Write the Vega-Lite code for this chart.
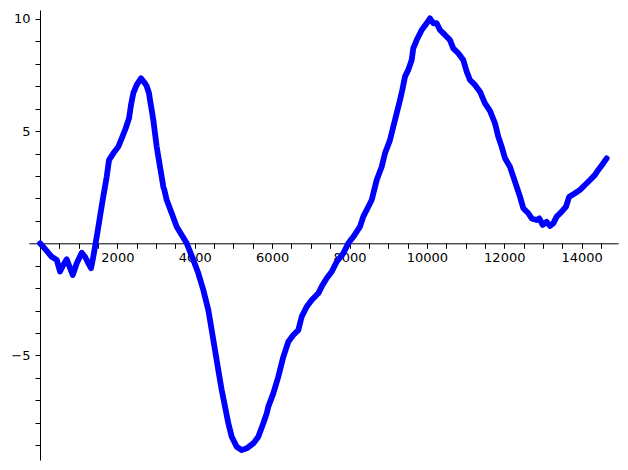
{
  "$schema": "https://vega.github.io/schema/vega-lite/v6.json",
  "width": 589,
  "height": 450,
  "autosize": {"type": "none"},
  "padding": {"left": 29, "top": 10, "right": 10, "bottom": 10},
  "background": "white",
  "config": {"view": {"stroke": null}},
  "data": {"values": [
    {"n": 0, "v": 0}, {"n": 129, "v": -0.25}, {"n": 302, "v": -0.6}, {"n": 432, "v": -0.74},
    {"n": 517, "v": -1.26}, {"n": 602, "v": -0.97}, {"n": 690, "v": -0.71}, {"n": 775, "v": -1.1},
    {"n": 845, "v": -1.41}, {"n": 949, "v": -0.89}, {"n": 1078, "v": -0.42}, {"n": 1163, "v": -0.6},
    {"n": 1248, "v": -0.89}, {"n": 1318, "v": -1.11}, {"n": 1362, "v": -0.74}, {"n": 1422, "v": -0.15},
    {"n": 1486, "v": 0.5}, {"n": 1551, "v": 1.2}, {"n": 1620, "v": 1.93}, {"n": 1724, "v": 2.97},
    {"n": 1783, "v": 3.71}, {"n": 1895, "v": 4.01}, {"n": 2024, "v": 4.31}, {"n": 2112, "v": 4.68},
    {"n": 2215, "v": 5.13}, {"n": 2300, "v": 5.57}, {"n": 2352, "v": 6.17}, {"n": 2411, "v": 6.69},
    {"n": 2499, "v": 7.06}, {"n": 2610, "v": 7.36}, {"n": 2714, "v": 7.13}, {"n": 2758, "v": 7.0},
    {"n": 2817, "v": 6.69}, {"n": 2843, "v": 6.39}, {"n": 2887, "v": 5.94}, {"n": 2928, "v": 5.5},
    {"n": 2972, "v": 4.9}, {"n": 3016, "v": 4.31}, {"n": 3058, "v": 3.86}, {"n": 3101, "v": 3.41},
    {"n": 3145, "v": 2.97}, {"n": 3187, "v": 2.52}, {"n": 3213, "v": 2.38}, {"n": 3275, "v": 1.93},
    {"n": 3404, "v": 1.34}, {"n": 3533, "v": 0.74}, {"n": 3662, "v": 0.37}, {"n": 3792, "v": 0},
    {"n": 3962, "v": -0.74}, {"n": 4092, "v": -1.34}, {"n": 4221, "v": -2.08}, {"n": 4350, "v": -2.97},
    {"n": 4438, "v": -3.87}, {"n": 4523, "v": -4.76}, {"n": 4608, "v": -5.65}, {"n": 4696, "v": -6.54},
    {"n": 4782, "v": -7.28}, {"n": 4867, "v": -8.02}, {"n": 4955, "v": -8.62}, {"n": 5084, "v": -9.07},
    {"n": 5213, "v": -9.22}, {"n": 5343, "v": -9.14}, {"n": 5513, "v": -8.92}, {"n": 5642, "v": -8.62},
    {"n": 5772, "v": -8.02}, {"n": 5860, "v": -7.58}, {"n": 5901, "v": -7.28}, {"n": 6030, "v": -6.69},
    {"n": 6159, "v": -5.95}, {"n": 6289, "v": -5.06}, {"n": 6418, "v": -4.39}, {"n": 6547, "v": -4.09},
    {"n": 6676, "v": -3.87}, {"n": 6764, "v": -3.27}, {"n": 6893, "v": -2.83}, {"n": 7023, "v": -2.53},
    {"n": 7193, "v": -2.23}, {"n": 7281, "v": -1.93}, {"n": 7410, "v": -1.56}, {"n": 7539, "v": -1.27},
    {"n": 7669, "v": -0.82}, {"n": 7839, "v": -0.45}, {"n": 7969, "v": 0}, {"n": 8098, "v": 0.29},
    {"n": 8271, "v": 0.74}, {"n": 8356, "v": 1.19}, {"n": 8486, "v": 1.63}, {"n": 8573, "v": 1.93},
    {"n": 8703, "v": 2.82}, {"n": 8832, "v": 3.41}, {"n": 8917, "v": 4.01}, {"n": 9046, "v": 4.6},
    {"n": 9132, "v": 5.2}, {"n": 9219, "v": 5.8}, {"n": 9305, "v": 6.39}, {"n": 9364, "v": 6.83},
    {"n": 9434, "v": 7.43}, {"n": 9519, "v": 7.73}, {"n": 9607, "v": 8.17}, {"n": 9648, "v": 8.69},
    {"n": 9736, "v": 9.06}, {"n": 9866, "v": 9.51}, {"n": 9995, "v": 9.81}, {"n": 10080, "v": 10.03},
    {"n": 10165, "v": 9.81}, {"n": 10253, "v": 9.81}, {"n": 10338, "v": 9.51}, {"n": 10468, "v": 9.29},
    {"n": 10597, "v": 9.06}, {"n": 10682, "v": 8.69}, {"n": 10812, "v": 8.47}, {"n": 10941, "v": 8.17},
    {"n": 11029, "v": 7.65}, {"n": 11114, "v": 7.28}, {"n": 11243, "v": 7.06}, {"n": 11372, "v": 6.76},
    {"n": 11502, "v": 6.24}, {"n": 11631, "v": 5.9}, {"n": 11760, "v": 5.35}, {"n": 11846, "v": 4.75},
    {"n": 11933, "v": 4.31}, {"n": 12019, "v": 3.79}, {"n": 12148, "v": 3.41}, {"n": 12233, "v": 2.97},
    {"n": 12321, "v": 2.52}, {"n": 12406, "v": 2.08}, {"n": 12492, "v": 1.56}, {"n": 12621, "v": 1.34},
    {"n": 12709, "v": 1.11}, {"n": 12838, "v": 1.04}, {"n": 12905, "v": 1.11}, {"n": 12993, "v": 0.82},
    {"n": 13096, "v": 0.96}, {"n": 13182, "v": 0.77}, {"n": 13267, "v": 0.89}, {"n": 13355, "v": 1.19},
    {"n": 13484, "v": 1.41}, {"n": 13595, "v": 1.63}, {"n": 13680, "v": 2.08}, {"n": 13828, "v": 2.23},
    {"n": 13957, "v": 2.38}, {"n": 14086, "v": 2.6}, {"n": 14216, "v": 2.82}, {"n": 14345, "v": 3.05},
    {"n": 14430, "v": 3.27}, {"n": 14559, "v": 3.57}, {"n": 14647, "v": 3.79}
  ]},
  "mark": {"type": "line", "color": "#0000ff", "strokeWidth": 5.8, "strokeCap": "round", "strokeJoin": "round"},
  "encoding": {
    "x": {
      "field": "n", "type": "quantitative",
      "scale": {"domain": [-285, 14940], "nice": false, "zero": false},
      "axis": {
        "title": null, "grid": false, "format": "d",
        "values": [500,1000,1500,2000,2500,3000,3500,4000,4500,5000,5500,6000,6500,7000,7500,8000,8500,9000,9500,10000,10500,11000,11500,12000,12500,13000,13500,14000,14500],
        "labelExpr": "datum.value % 2000 === 0 ? datum.label : ''",
        "offset": -216.7, "tickSize": 5, "labelPadding": 3,
        "labelFlush": false, "labelOverlap": false,
        "domainColor": "black", "domainWidth": 1, "tickColor": "black", "tickWidth": 1,
        "labelColor": "black", "labelFont": "DejaVu Sans", "labelFontSize": 13,
        "encode": {"ticks": {"update": {"y2": {"signal": "datum.value % 2000 === 0 ? 5 : 3"}}}}
      }
    },
    "y": {
      "field": "v", "type": "quantitative",
      "scale": {"domain": [-9.66, 10.4], "nice": false, "zero": false},
      "axis": {
        "title": null, "grid": false,
        "values": [-9,-8,-7,-6,-5,-4,-3,-2,-1,1,2,3,4,5,6,7,8,9,10],
        "labelExpr": "datum.value % 5 === 0 ? datum.label : ''",
        "offset": -11, "tickSize": 5, "labelPadding": 5,
        "labelFlush": false, "labelOverlap": false,
        "domainColor": "black", "domainWidth": 1, "tickColor": "black", "tickWidth": 1,
        "labelColor": "black", "labelFont": "DejaVu Sans", "labelFontSize": 13,
        "encode": {"ticks": {"update": {"x2": {"signal": "datum.value % 5 === 0 ? -5 : -3"}}}}
      }
    }
  }
}
